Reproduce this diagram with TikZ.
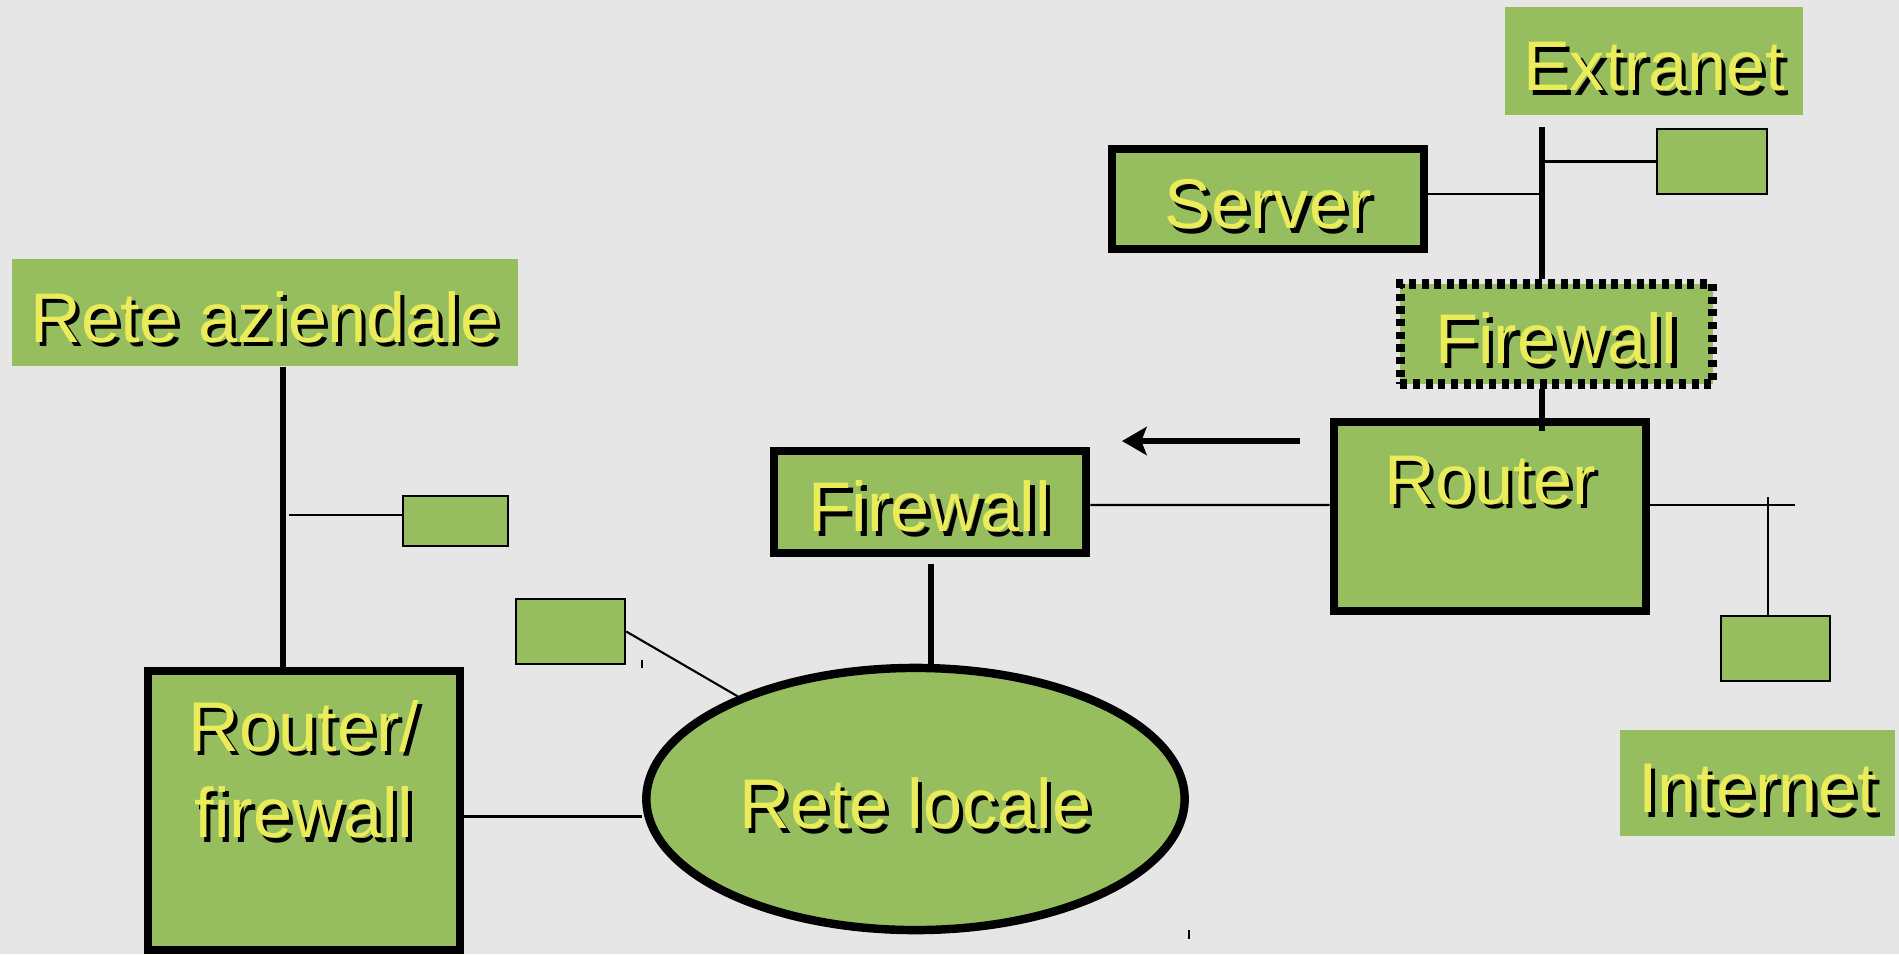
\documentclass[tikz,border=0pt]{standalone}
\usepackage{fontspec}
\setmainfont{Liberation Sans}
\usetikzlibrary{arrows.meta,positioning,shapes.geometric}
\definecolor{bggray}{RGB}{230,230,230}
\definecolor{boxgreen}{RGB}{150,190,95}
\definecolor{txtyellow}{RGB}{234,236,90}
% yellow text with a black drop shadow
\newcommand{\shtxt}[1]{\makebox[0pt][l]{\hspace{1.2pt}\raisebox{-1.2pt}{\color{black}#1}}{\color{txtyellow}#1}}

\begin{document}
\begin{tikzpicture}[x=0.01cm, y=-0.01cm,
  every node/.style={font=\fontsize{20}{24.5}\selectfont, inner sep=0pt},
  bigbox/.style={draw, line width=2.4pt, fill=boxgreen, text height=17pt, text depth=0pt},
  tagbox/.style={fill=boxgreen, text height=17pt, text depth=0pt},
  hostbox/.style={draw, line width=0.7pt, fill=boxgreen, minimum width=1.09cm, minimum height=0.65cm},
  bus/.style={line width=1.8pt},
  link/.style={line width=0.6pt}]
  % Background
  \fill[bggray] (0,0) rectangle (1899,954);
  \useasboundingbox (0,0) rectangle (1899,954);
  % Extranet side
  \node[tagbox, minimum width=2.98cm, minimum height=1.08cm] (extranet) at (1654,61) {\shtxt{Extranet}};
  \node[hostbox, minimum width=1.10cm] (exthost) at (1712,161.5) {};
  \node[bigbox, minimum width=3.12cm, minimum height=1.00cm] (server) at (1268,199) {\shtxt{Server}};
  \node[bigbox, line width=2.6pt, dash pattern=on 2pt off 1.6pt, minimum width=3.12cm, minimum height=1.00cm] (fwext) at (1556.5,334) {\shtxt{Firewall}};
  % Router and Internet side
  \node[bigbox, minimum width=3.12cm, minimum height=1.89cm] (router) at (1490,516.5) {};
  \node (routerlbl) at ([yshift=-0.645cm]router.north) {\shtxt{Router}};
  \node[hostbox] (rhost) at (1775.5,648.5) {};
  \node[tagbox, minimum width=2.75cm, minimum height=1.06cm] (internet) at (1757.5,783) {\shtxt{Internet}};
  % Local network
  \node[bigbox, minimum width=3.12cm, minimum height=1.02cm] (fwlan) at (930,502) {\shtxt{Firewall}};
  \node[bigbox, ellipse, minimum width=5.38cm, minimum height=2.62cm] (lan) at (915.5,799) {\shtxt{Rete locale}};
  \node[hostbox] (lhost) at (570.5,631.5) {};
  % Company network
  \node[tagbox, minimum width=5.06cm, minimum height=1.07cm] (rete) at (265,312.5) {\shtxt{Rete aziendale}};
  \node[hostbox, minimum width=1.05cm, minimum height=0.50cm] (lhost2) at (455.5,521) {};
  \node[bigbox, minimum width=3.12cm, minimum height=2.79cm] (rf) at (304,810.5) {};
  \node[align=center] (rflbl) at ([yshift=-1.05cm]rf.north) {\shtxt{Router/}\\\shtxt{firewall}};

  % Extranet bus
  \coordinate (eb) at (1542,127);
  \coordinate (srvport) at ([yshift=0.05cm]server.east);
  \draw[bus] (eb) -- (eb |- fwext.north);
  \draw[link] (srvport) -- (eb |- srvport);
  \draw[link] (eb |- exthost.west) -- (exthost.west);
  \draw[bus] (eb |- fwext.south) -- ++(0,42);
  % Router links
  \coordinate (rbus) at (1795,505);
  \coordinate (rdrop) at (1768,497);
  \draw[link] ([yshift=-0.03cm]fwlan.east) -- (router.west |- rbus);
  \draw[link] (router.east |- rbus) -- (rbus);
  \draw[link] (rdrop) -- (rdrop |- rhost.north);
  % Arrow towards the LAN firewall
  \coordinate (arrs) at (1300,441);
  \coordinate (arrt) at (1122,441);
  \draw[line width=1.8pt, -{Stealth[length=7pt, width=8pt, inset=1.5pt]}] (arrs) -- (arrt);
  % LAN links
  \coordinate (fwport) at (931,564);
  \draw[bus] (fwport) -- (fwport |- lan.north);
  \draw[link] (lhost.east) -- (lan.150);
  \coordinate (rfport) at ([yshift=-0.06cm]rf.east);
  \draw[link] (rfport) -- (lan.west |- rfport);
  % Company network bus
  \coordinate (rb) at (283,366);
  \coordinate (h2port) at ([yshift=0.06cm]lhost2.west);
  \draw[bus] (rb |- rete.south) -- (rb |- rf.north);
  \draw[link] ([xshift=0.06cm]rb |- h2port) -- (h2port);
  % stray ticks
  \draw[line width=0.4pt] (642,660) -- (642,668);
  \draw[line width=0.4pt] (1189,930) -- (1189,939);
\end{tikzpicture}
\end{document}
